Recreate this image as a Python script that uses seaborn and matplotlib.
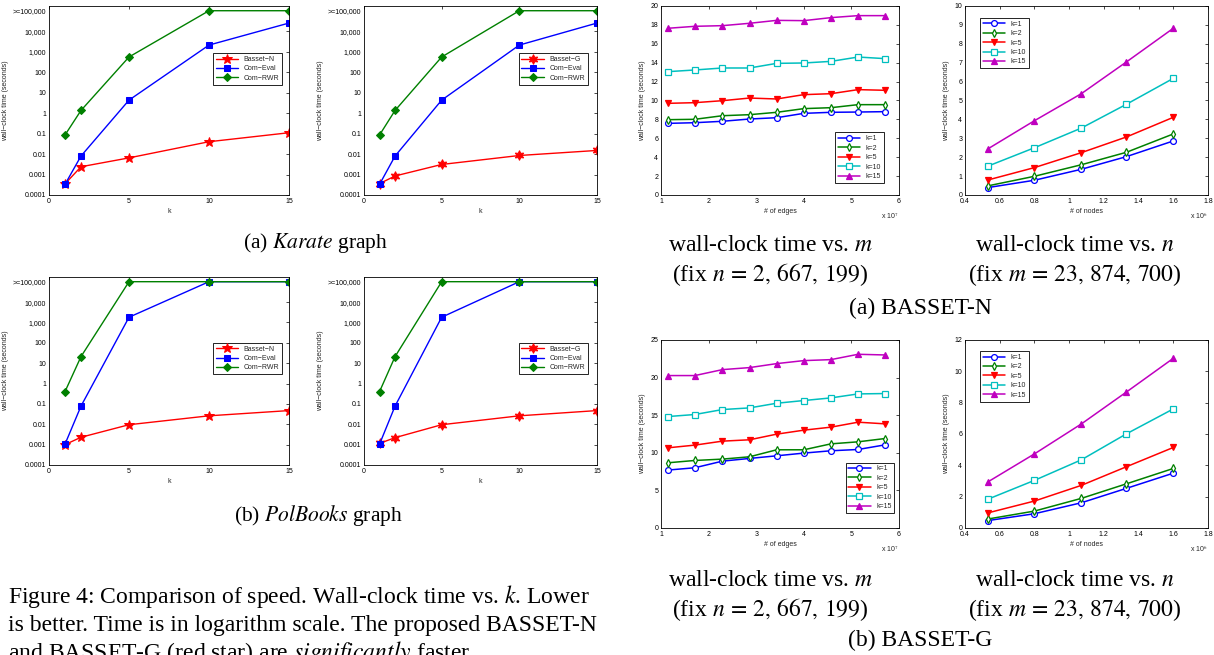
import numpy as np
import pandas as pd
import matplotlib
matplotlib.use("Agg")
import matplotlib.pyplot as plt
import seaborn as sns

# -------------------------------
# Data
# -------------------------------
k_vals = [1, 2, 5, 10, 15]

karate_basset_n = [3.5e-4, 2.4e-3, 6.5e-3, 0.04, 0.11]
karate_basset_g = [3.6e-4, 8.5e-4, 3.1e-3, 8.5e-3, 0.015]
karate_com_eval = [3.3e-4, 0.008, 4.3, 2100, 25000]
karate_com_rwr = [0.085, 1.35, 550, 1e5, 1e5]

polbooks_basset_n = [1.0e-3, 2.3e-3, 9.5e-3, 0.026, 0.047]
polbooks_basset_g = [1.15e-3, 2.2e-3, 9.5e-3, 0.026, 0.047]
polbooks_com_eval = [1.05e-3, 0.078, 1800, 1e5, 1e5]
polbooks_com_rwr = [0.4, 21, 1e5, 1e5, 1e5]

log_ticks = [1e-4, 1e-3, 1e-2, 1e-1, 1, 10, 100, 1e3, 1e4, 1e5]
log_tick_labels = ["0.0001", "0.001", "0.01", "0.1", "1", "10", "100",
                   "1,000", "10,000", ">=100,000"]

# edges in units of 10^7, nodes in units of 10^6
edges = [1.14, 1.71, 2.29, 2.86, 3.43, 4.00, 4.57, 5.14, 5.71]
nodes = [0.53, 0.80, 1.07, 1.33, 1.60]
k_labels = ["k=1", "k=2", "k=5", "k=10", "k=15"]

bn_edge = [
    [7.58, 7.65, 7.80, 8.04, 8.18, 8.64, 8.75, 8.78, 8.82],
    [7.97, 8.01, 8.39, 8.50, 8.75, 9.14, 9.24, 9.56, 9.56],
    [9.70, 9.77, 9.98, 10.26, 10.16, 10.62, 10.72, 11.15, 11.08],
    [13.05, 13.23, 13.44, 13.44, 13.93, 13.97, 14.14, 14.60, 14.43],
    [17.64, 17.85, 17.92, 18.17, 18.48, 18.45, 18.77, 18.98, 18.98],
]
bn_node = [
    [0.39, 0.78, 1.36, 2.03, 2.86],
    [0.48, 0.99, 1.60, 2.26, 3.23],
    [0.79, 1.45, 2.24, 3.07, 4.11],
    [1.52, 2.50, 3.54, 4.80, 6.17],
    [2.43, 3.93, 5.36, 7.04, 8.82],
]
bg_edge = [
    [7.70, 8.01, 8.89, 9.25, 9.60, 9.96, 10.27, 10.44, 11.06],
    [8.67, 8.98, 9.16, 9.47, 10.40, 10.40, 11.19, 11.46, 11.90],
    [10.66, 11.02, 11.55, 11.73, 12.48, 13.01, 13.41, 14.07, 13.85],
    [14.82, 15.09, 15.75, 15.97, 16.59, 16.95, 17.30, 17.83, 17.88],
    [20.27, 20.27, 21.06, 21.33, 21.86, 22.26, 22.39, 23.10, 23.01],
]
bg_node = [
    [0.47, 0.91, 1.61, 2.53, 3.50],
    [0.57, 1.08, 1.89, 2.82, 3.80],
    [0.96, 1.72, 2.72, 3.91, 5.14],
    [1.83, 3.04, 4.35, 6.01, 7.60],
    [2.93, 4.73, 6.64, 8.68, 10.83],
]

# -------------------------------
# Style
# -------------------------------
sns.set_theme(style="white")
plt.rcParams["font.family"] = ["Liberation Sans", "DejaVu Sans"]
plt.rcParams["mathtext.fontset"] = "stix"
plt.rcParams["xtick.direction"] = "in"
plt.rcParams["ytick.direction"] = "in"
plt.rcParams["xtick.top"] = True
plt.rcParams["ytick.right"] = True
plt.rcParams["xtick.major.size"] = 2.5
plt.rcParams["ytick.major.size"] = 2.5
plt.rcParams["xtick.major.width"] = 0.5
plt.rcParams["ytick.major.width"] = 0.5
plt.rcParams["axes.linewidth"] = 0.6
plt.rcParams["axes.edgecolor"] = "black"

W, H = 1214, 655
fig = plt.figure(figsize=(W / 100, H / 100), dpi=100)
TICK_FS = 5
SERIF = ["Liberation Serif", "DejaVu Serif"]

RED, BLUE, GREEN = "#FF0000", "#0000FF", "#008000"
CYAN, MAGENTA = "#00BFBF", "#BF00BF"


def add_ax(x0, y0, x1, y1):
    return fig.add_axes([x0 / W, 1 - y1 / H, (x1 - x0) / W, (y1 - y0) / H])


def finish_ax(ax):
    for s in ax.spines.values():
        s.set_visible(True)
        s.set_color("black")
        s.set_linewidth(0.6)
    ax.tick_params(labelsize=TICK_FS, pad=2, colors="black", which="both")
    ax.minorticks_off()


# -------------------------------
# Left: wall-clock time vs k (log scale)
# -------------------------------
def speed_panel(rect, basset, basset_name, basset_marker, com_eval, com_rwr, anchor):
    ax = add_ax(*rect)
    sns.lineplot(x=k_vals, y=basset, ax=ax, color=RED, marker=basset_marker,
                 markersize=7, markerfacecolor=RED, markeredgecolor=RED,
                 lw=1.0, label=basset_name)
    sns.lineplot(x=k_vals, y=com_eval, ax=ax, color=BLUE, marker="s",
                 markersize=4.3, markerfacecolor=BLUE, markeredgecolor=BLUE,
                 lw=1.0, label="Com\u2212Eval")
    sns.lineplot(x=k_vals, y=com_rwr, ax=ax, color=GREEN, marker="D",
                 markersize=4.0, markerfacecolor=GREEN, markeredgecolor=GREEN,
                 lw=1.0, label="Com\u2212RWR")
    ax.set_yscale("log")
    ax.set_ylim(1e-4, 1.7e5)
    ax.set_xlim(0, 15)
    ax.set_xticks([0, 5, 10, 15])
    ax.set_yticks(log_ticks)
    ax.set_yticklabels(log_tick_labels)
    ax.set_xlabel("k", fontsize=TICK_FS, labelpad=2)
    ax.set_ylabel("wall\u2212clock time (seconds)", fontsize=TICK_FS, labelpad=3)
    finish_ax(ax)
    ax.minorticks_off()
    ax.legend(loc="upper right", bbox_to_anchor=anchor, borderaxespad=0,
              fontsize=TICK_FS, frameon=True, fancybox=False, edgecolor="black",
              framealpha=1, handlelength=3.2, borderpad=0.4, labelspacing=0.35)
    ax.get_legend().get_frame().set_linewidth(0.6)
    return ax


speed_panel((49, 6, 289, 195), karate_basset_n, "Basset\u2212N", "*",
            karate_com_eval, karate_com_rwr, (0.97, 0.75))
speed_panel((364, 6, 597, 195), karate_basset_g, "Basset\u2212G", (6, 1, 0),
            karate_com_eval, karate_com_rwr, (0.96, 0.75))
speed_panel((49, 277, 289, 465), polbooks_basset_n, "Basset\u2212N", "*",
            polbooks_com_eval, polbooks_com_rwr, (0.97, 0.65))
speed_panel((364, 277, 597, 465), polbooks_basset_g, "Basset\u2212G", (6, 1, 0),
            polbooks_com_eval, polbooks_com_rwr, (0.96, 0.65))

# -------------------------------
# Right: scalability vs m and n
# -------------------------------
k_colors = [BLUE, GREEN, RED, CYAN, MAGENTA]
k_markers = ["o", "d", "v", "s", "^"]
k_filled = [False, False, True, False, True]


def scale_panel(rect, xs, series, xlim, xticks, ylim, yticks, xlabel, expo,
                loc, anchor):
    ax = add_ax(*rect)
    for vals, c, m, filled, lab in zip(series, k_colors, k_markers, k_filled, k_labels):
        sns.lineplot(x=xs, y=vals, ax=ax, color=c, marker=m, markersize=4.2,
                     markerfacecolor=c if filled else "white",
                     markeredgecolor=c, markeredgewidth=0.9, lw=1.1, label=lab)
    ax.set_xlim(*xlim)
    ax.set_ylim(*ylim)
    ax.set_xticks(xticks)
    ax.set_yticks(yticks)
    ax.set_xticklabels(["%g" % t for t in xticks])
    ax.set_yticklabels(["%g" % t for t in yticks])
    ax.set_xlabel(xlabel, fontsize=TICK_FS, labelpad=2)
    ax.set_ylabel("wall\u2212clock time (seconds)", fontsize=TICK_FS, labelpad=3)
    ax.text(1.0, -0.085, "x 10$^{%d}$" % expo, transform=ax.transAxes,
            ha="right", va="top", fontsize=TICK_FS)
    finish_ax(ax)
    ax.legend(loc=loc, bbox_to_anchor=anchor, borderaxespad=0,
              fontsize=TICK_FS, frameon=True, fancybox=False, edgecolor="black",
              framealpha=1, handlelength=3.2, borderpad=0.4, labelspacing=0.35)
    ax.get_legend().get_frame().set_linewidth(0.6)
    return ax


scale_panel((661, 6, 899, 195), edges, bn_edge, (1, 6), [1, 2, 3, 4, 5, 6],
            (0, 20), list(range(0, 21, 2)), "# of edges", 7,
            "lower right", (0.935, 0.065))
scale_panel((965, 6, 1208, 195), nodes, bn_node, (0.4, 1.8),
            [0.4, 0.6, 0.8, 1.0, 1.2, 1.4, 1.6, 1.8],
            (0, 10), list(range(0, 11)), "# of nodes", 6,
            "upper left", (0.062, 0.937))
scale_panel((661, 340, 899, 528), edges, bg_edge, (1, 6), [1, 2, 3, 4, 5, 6],
            (0, 25), list(range(0, 26, 5)), "# of edges", 7,
            "lower right", (0.98, 0.08))
scale_panel((965, 340, 1208, 528), nodes, bg_node, (0.4, 1.8),
            [0.4, 0.6, 0.8, 1.0, 1.2, 1.4, 1.6, 1.8],
            (0, 12), list(range(0, 13, 2)), "# of nodes", 6,
            "upper left", (0.062, 0.94))

# -------------------------------
# Captions
# -------------------------------
def cap(x, y, s, fs=17, ha="center"):
    fig.text(x / W, 1 - y / H, s, ha=ha, va="center", fontsize=fs,
             family=SERIF, color="black")


cap(316, 243, r"(a) $\mathit{Karate}$ graph", fs=15.5)
cap(318, 516, r"(b) $\mathit{PolBooks}$ graph", fs=15.5)

for y0, sub in [(245, "(a) BASSET-N"), (580, "(b) BASSET-G")]:
    cap(770, y0, r"wall-clock time vs. $m$")
    cap(1075, y0, r"wall-clock time vs. $n$")
    cap(770, y0 + 30, r"(fix $n\,=\,2,\,667,\,199$)")
    cap(1075, y0 + 30, r"(fix $m\,=\,23,\,874,\,700$)")
    cap(920, y0 + 63 if y0 < 300 else y0 + 60, sub)

cap(8, 596, r"Figure 4: Comparison of speed. Wall-clock time vs. $k$. Lower", ha="left")
cap(8, 625, "is better. Time is in logarithm scale. The proposed BASSET-N", ha="left")
cap(8, 653, r"and BASSET-G (red star) are $\mathit{significantly}$ faster.", ha="left")

fig.savefig("out.png", dpi=100)
